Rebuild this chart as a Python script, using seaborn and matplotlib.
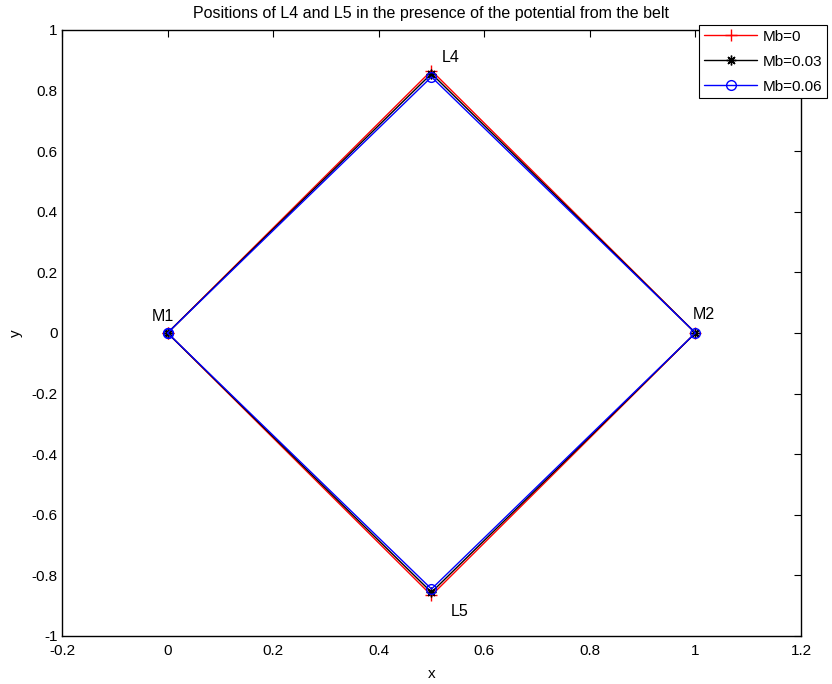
import matplotlib
matplotlib.use("Agg")
import matplotlib.pyplot as plt
import pandas as pd
import seaborn as sns

# Data: vertices of the diamond M1 -> L4 -> M2 -> L5 -> M1
belt_masses = ["Mb=0", "Mb=0.03", "Mb=0.06"]
l4_heights = [0.866, 0.856, 0.845]
vertex_x = [0.0, 0.5, 1.0, 0.5, 0.0]
vertex_sign = [0, 1, 0, -1, 0]

colors = ["red", "black", "blue"]
markers = ["+", (8, 2, 0), "o"]

rows = []
for mb, h in zip(belt_masses, l4_heights):
    for i, (x, s) in enumerate(zip(vertex_x, vertex_sign)):
        rows.append({"Mb": mb, "order": i, "x": x, "y": s * h})
df = pd.DataFrame(rows)

sns.set_theme(style="white")
plt.rcParams['font.family'] = ['Liberation Sans', 'DejaVu Sans']
plt.rcParams['text.color'] = 'black'
plt.rcParams['axes.labelcolor'] = 'black'

fig = plt.figure(figsize=(8.32, 6.84), dpi=100)
ax = fig.add_axes([0.0745, 0.0702, 0.8882, 0.8860])

for mb, c, m in zip(belt_masses, colors, markers):
    sub = df[df["Mb"] == mb].sort_values("order")
    sns.lineplot(data=sub, x="x", y="y", sort=False, ax=ax, color=c, marker=m,
                 markersize=8 if m == "+" else 7, markerfacecolor="none",
                 markeredgecolor=c, markeredgewidth=1.0, linewidth=1.0,
                 label=mb, estimator=None)

ax.set_xlim(-0.2, 1.2)
ax.set_ylim(-1, 1)
ax.set_xticks([-0.2, 0, 0.2, 0.4, 0.6, 0.8, 1, 1.2])
ax.set_xticklabels(["-0.2", "0", "0.2", "0.4", "0.6", "0.8", "1", "1.2"])
ax.set_yticks([-1, -0.8, -0.6, -0.4, -0.2, 0, 0.2, 0.4, 0.6, 0.8, 1])
ax.set_yticklabels(["-1", "-0.8", "-0.6", "-0.4", "-0.2", "0", "0.2", "0.4", "0.6", "0.8", "1"])
ax.tick_params(direction="in", top=True, right=True, length=5, width=0.8,
               labelsize=11, colors="black")
ax.tick_params(axis="x", pad=6)
ax.tick_params(axis="y", pad=3)
for sp in ax.spines.values():
    sp.set_color("black")
    sp.set_linewidth(1.0)

ax.set_xlabel("x", fontsize=11, labelpad=6)
ax.set_ylabel("y", fontsize=11, labelpad=6)
ax.set_title("Positions of L4 and L5 in the presence of the potential from the belt",
             fontsize=11.5, pad=8.5)

ax.text(0.52, 0.895, "L4", fontsize=11.5)
ax.text(0.537, -0.935, "L5", fontsize=11.5)
ax.text(-0.03, 0.04, "M1", fontsize=11.5)
ax.text(0.995, 0.045, "M2", fontsize=11.5)

leg = ax.legend(loc="upper left", bbox_to_anchor=(0.8405, 0.9635),
                bbox_transform=fig.transFigure, fontsize=11, frameon=True,
                fancybox=False, edgecolor="black", framealpha=1,
                borderpad=0.3, labelspacing=0.72, handlelength=3.5,
                handletextpad=0.35, borderaxespad=0, numpoints=1)
leg.get_frame().set_linewidth(0.8)

fig.savefig("out.png", dpi=100)
